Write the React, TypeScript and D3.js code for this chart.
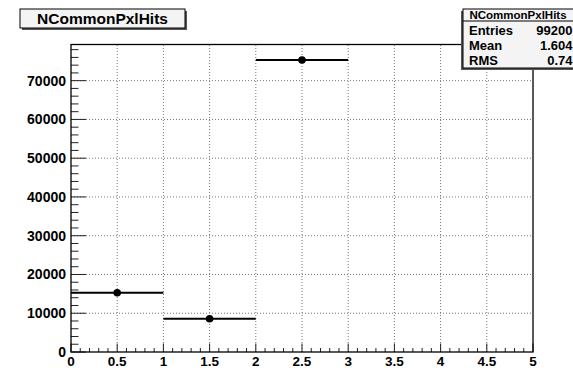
import React from "react";
import * as d3 from "d3";

// histogram NCommonPxlHits
const binLow = [0, 1, 2];
const binHigh = [1, 2, 3];
const counts = [15300, 8590, 75330];
const xTicks = [0, 0.5, 1, 1.5, 2, 2.5, 3, 3.5, 4, 4.5, 5];
const yTicks = [0, 10000, 20000, 30000, 40000, 50000, 60000, 70000];
const statLabels = ["Entries", "Mean", "RMS"];
const statValues = ["99200", "1.604", "0.74"];

const W = 573;
const H = 368;
const font = "'Liberation Sans', Arial, Helvetica, sans-serif";

const App = () => {
  const x = d3.scaleLinear().domain([0, 5]).range([71, 533]);
  const y = d3.scaleLinear().domain([0, 79330]).range([352, 44.5]);

  const xMinor = d3.range(0, 5.0001, 0.1);
  const yMinor = d3.range(0, 79330, 2000);

  return (
    <svg width={W} height={H} style={{position: "absolute", left: 0, top: 0, background: "#fff"}}>
      <rect x={0} y={0} width={W} height={H} fill="#fff" />

      {/* grid */}
      {xTicks.slice(1, -1).map((t) => (
        <line key={"gx" + t} x1={x(t)} x2={x(t)} y1={y.range()[0]} y2={y.range()[1]}
          stroke="#777" strokeWidth={1} strokeDasharray="1,2" />
      ))}
      {yTicks.slice(1).map((t) => (
        <line key={"gy" + t} x1={x(0)} x2={x(5)} y1={y(t)} y2={y(t)}
          stroke="#777" strokeWidth={1} strokeDasharray="1,2" />
      ))}

      {/* ticks */}
      {xMinor.map((t, i) => {
        const major = i % 5 === 0;
        return <line key={"xt" + i} x1={x(t)} x2={x(t)} y1={352} y2={352 - (major ? 8.5 : 4)}
          stroke="#222" strokeWidth={1} />;
      })}
      {yMinor.map((t, i) => {
        const major = i % 5 === 0;
        return <line key={"yt" + i} x1={71} x2={71 + (major ? 15 : 7.5)} y1={y(t)} y2={y(t)}
          stroke="#222" strokeWidth={1} />;
      })}

      {/* frame */}
      <rect x={x(0)} y={y.range()[1]} width={x(5) - x(0)} height={y.range()[0] - y.range()[1]}
        fill="none" stroke="#000" strokeWidth={1.3} />

      {/* tick labels */}
      {xTicks.map((t) => (
        <text key={"xl" + t} x={x(t)} y={366} textAnchor="middle" fontFamily={font}
          fontWeight="bold" fontSize={13.5} fill="#000">{t}</text>
      ))}
      {yTicks.map((t) => (
        <text key={"yl" + t} x={66} y={y(t) + 5} textAnchor="end" fontFamily={font}
          fontWeight="bold" fontSize={14} fill="#000">{t}</text>
      ))}

      {/* data */}
      {counts.map((c, i) => (
        <g key={"b" + i}>
          <line x1={x(binLow[i])} x2={x(binHigh[i])} y1={y(c)} y2={y(c)} stroke="#000" strokeWidth={2} />
          <circle cx={x((binLow[i] + binHigh[i]) / 2)} cy={y(c)} r={3.8} fill="#000" />
        </g>
      ))}

      {/* title box */}
      <rect x={22} y={11} width={165} height={19} fill="#555" />
      <rect x={20} y={9} width={165} height={19} fill="#f4f4f4" stroke="#000" strokeWidth={1} />
      <text x={102.5} y={24} textAnchor="middle" fontFamily={font} fontWeight="bold"
        fontSize={15.5} fill="#000">NCommonPxlHits</text>

      {/* stats box */}
      <rect x={461} y={11} width={120} height={59} fill="#555" />
      <rect x={463} y={9} width={120} height={59} fill="#f4f4f4" stroke="#000" strokeWidth={1} />
      <line x1={463} x2={583} y1={21} y2={21} stroke="#000" strokeWidth={1} />
      <text x={518} y={19} textAnchor="middle" fontFamily={font} fontWeight="bold"
        fontSize={11.5} fill="#000">NCommonPxlHits</text>
      {statLabels.map((s, i) => (
        <g key={"s" + i}>
          <text x={469} y={35 + i * 15} fontFamily={font} fontWeight="bold" fontSize={13} fill="#000">{s}</text>
          <text x={572.5} y={35 + i * 15} textAnchor="end" fontFamily={font} fontWeight="bold"
            fontSize={13} fill="#000">{statValues[i]}</text>
        </g>
      ))}
    </svg>
  );
};

export default App;
